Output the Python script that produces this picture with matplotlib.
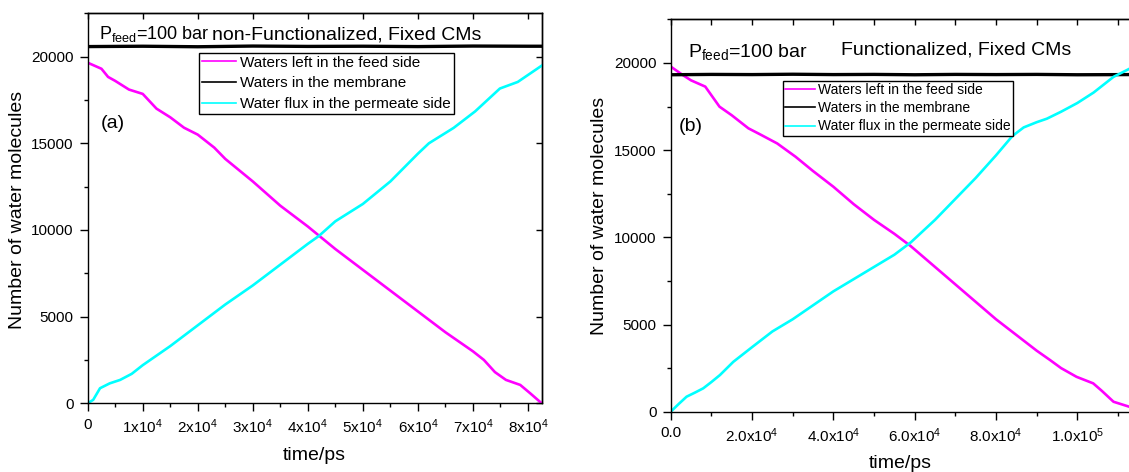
import matplotlib
matplotlib.use('Agg')
import matplotlib.pyplot as plt
from matplotlib.ticker import MultipleLocator, NullFormatter

plt.rcParams['font.family'] = ['Liberation Sans', 'DejaVu Sans']
plt.rcParams['mathtext.fontset'] = 'custom'
plt.rcParams['mathtext.rm'] = 'Liberation Sans'
plt.rcParams['mathtext.it'] = 'Liberation Sans:italic'
plt.rcParams['mathtext.bf'] = 'Liberation Sans:bold'
plt.rcParams['mathtext.default'] = 'rm'

# ---------------- data: panel (a) ----------------
t_feed_a = [0, 2500, 3700, 5000, 7500, 10000, 12500, 15000, 17500, 20000, 23000, 25000,
            30000, 35000, 40000, 45000, 50000, 55000, 60000, 65000, 70000, 72000, 74000,
            76000, 78600, 80400, 82500]
feed_a = [19650, 19300, 18830, 18600, 18100, 17850, 17000, 16500, 15900, 15500, 14750, 14100,
          12800, 11400, 10200, 8900, 7700, 6500, 5300, 4100, 3000, 2500, 1800,
          1350, 1060, 580, 0]

t_perm_a = [0, 1000, 2240, 4000, 5900, 8000, 10000, 15000, 20000, 25000, 30000, 35000, 40000,
            42000, 45000, 50000, 55000, 60000, 62000, 66500, 70400, 74900, 78150, 82500]
perm_a = [0, 200, 870, 1150, 1350, 1700, 2200, 3300, 4500, 5700, 6800, 8000, 9200,
          9650, 10500, 11500, 12800, 14400, 15000, 15890, 16840, 18160, 18540, 19480]

t_memb_a = [0, 10000, 20000, 30000, 40000, 50000, 60000, 70000, 80000, 82500]
memb_a = [20580, 20600, 20570, 20610, 20590, 20600, 20580, 20610, 20600, 20600]

# ---------------- data: panel (b) ----------------
t_feed_b = [0, 3000, 5000, 8500, 12000, 15000, 19100, 22000, 26200, 30700, 35000, 40000,
            45000, 50000, 55000, 59000, 65000, 70000, 75000, 80000, 85000, 90000, 93300,
            96000, 99800, 103900, 106000, 108900, 112700]
feed_b = [19790, 19300, 19000, 18640, 17490, 17000, 16250, 15900, 15380, 14620, 13800, 12900,
          11900, 11000, 10200, 9500, 8300, 7300, 6300, 5300, 4400, 3500, 2960,
          2500, 2000, 1625, 1200, 570, 290]

t_perm_b = [0, 2000, 3900, 6000, 8000, 10000, 12100, 15400, 20000, 25000, 30000, 35000,
            40000, 45000, 50000, 55000, 59000, 65000, 70000, 75000, 80000, 84000, 86800,
            90000, 92500, 96000, 100000, 104000, 108900, 112700]
perm_b = [0, 450, 860, 1100, 1340, 1700, 2100, 2860, 3700, 4600, 5300, 6100,
          6900, 7600, 8300, 9000, 9700, 11000, 12200, 13400, 14700, 15800, 16300,
          16600, 16800, 17200, 17700, 18300, 19200, 19650]

t_memb_b = [0, 10000, 20000, 30000, 40000, 50000, 60000, 70000, 80000, 90000, 100000, 112700]
memb_b = [19320, 19340, 19330, 19350, 19330, 19340, 19320, 19340, 19330, 19340, 19320, 19330]

labels = ['Waters left in the feed side', 'Waters in the membrane',
          'Water flux in the permeate side']

xticks_a = [0, 10000, 20000, 30000, 40000, 50000, 60000, 70000, 80000]
xticklabels_a = ['0'] + [r'%dx10$^{4}$' % i for i in range(1, 9)]
xticks_b = [0, 20000, 40000, 60000, 80000, 100000]
xticklabels_b = ['0.0', r'2.0x10$^{4}$', r'4.0x10$^{4}$', r'6.0x10$^{4}$',
                 r'8.0x10$^{4}$', r'1.0x10$^{5}$']
yticks = [0, 5000, 10000, 15000, 20000]
yticklabels = ['0', '5000', '10000', '15000', '20000']

MAG = '#FF00FF'
CYA = '#00FFFF'

W, H = 1129, 472
fig = plt.figure(figsize=(W / 100, H / 100), dpi=100)


def fx(px):
    return px / W


def fy(py):
    return 1 - py / H


axA = fig.add_axes([fx(87.7), fy(403.3), (541.7 - 87.7) / W, (403.3 - 13.3) / H])
axB = fig.add_axes([fx(670.7), fy(411.7), (1130.2 - 670.7) / W, (411.7 - 19.3) / H])


def style(ax, xmax, xt, xtl, xminor, right_ticks=True):
    ax.set_xlim(0, xmax)
    ax.set_ylim(0, 22500)
    ax.set_xticks(xt)
    ax.set_xticklabels(xtl)
    ax.xaxis.set_minor_locator(MultipleLocator(xminor))
    ax.set_yticks(yticks)
    ax.set_yticklabels(yticklabels)
    ax.yaxis.set_minor_locator(MultipleLocator(2500))
    ax.tick_params(which='both', direction='out', width=1.0, labelsize=11,
                   top=False, right=False)
    ax.tick_params(axis='x', which='major', length=5.5, pad=5)
    ax.tick_params(axis='y', which='major', length=5.5, pad=4.5)
    ax.tick_params(which='minor', length=3)
    for s in ax.spines.values():
        s.set_linewidth(1.0)
    top = ax.secondary_xaxis('top')
    top.set_ticks([v for v in range(0, int(xmax) + 1, 10000)])
    top.xaxis.set_major_formatter(NullFormatter())
    top.tick_params(axis='x', which='major', direction='in', length=4.5, width=1.0)
    top.spines['top'].set_linewidth(1.0)
    if right_ticks:
        right = ax.secondary_yaxis('right')
        right.set_ticks(yticks)
        right.yaxis.set_major_formatter(NullFormatter())
        right.tick_params(axis='y', which='major', direction='in', length=4.5, width=1.0)
        right.spines['right'].set_linewidth(1.0)


def draw(ax, tf, f, tm, m, tp, p):
    l1, = ax.plot(tf, f, color=MAG, lw=1.9)
    l2, = ax.plot(tm, m, color='black', lw=2.4)
    l3, = ax.plot(tp, p, color=CYA, lw=1.9)
    return [l1, l2, l3]


hA = draw(axA, t_feed_a, feed_a, t_memb_a, memb_a, t_perm_a, perm_a)
hB = draw(axB, t_feed_b, feed_b, t_memb_b, memb_b, t_perm_b, perm_b)
style(axA, 82500, xticks_a, xticklabels_a, 5000)
style(axB, 113000, xticks_b, xticklabels_b, 10000, right_ticks=False)

legA = axA.legend(hA, labels, loc='upper left', bbox_to_anchor=(fx(198.8), fy(52.5)),
                  bbox_transform=fig.transFigure, borderaxespad=0, fontsize=11,
                  frameon=True, fancybox=False, edgecolor='black', framealpha=1,
                  borderpad=0.2, labelspacing=0.45, handlelength=2.25, handletextpad=0.25)
legA.get_frame().set_linewidth(1.0)
legB = axB.legend(hB, labels, loc='upper left', bbox_to_anchor=(fx(782.8), fy(81)),
                  bbox_transform=fig.transFigure, borderaxespad=0, fontsize=10,
                  frameon=True, fancybox=False, edgecolor='black', framealpha=1,
                  borderpad=0.15, labelspacing=0.3, handlelength=2.15, handletextpad=0.25)
legB.get_frame().set_linewidth(1.0)
for leg in (legA, legB):
    for ln in leg.get_lines():
        ln.set_linewidth(1.2)

fig.text(fx(99), fy(39), r'P$_{\mathrm{feed}}$=100 bar', fontsize=13, va='baseline')
fig.text(fx(212), fy(39), 'non-Functionalized, Fixed CMs', fontsize=14, va='baseline')
fig.text(fx(688.3), fy(56.7), r'P$_{\mathrm{feed}}$=100 bar', fontsize=14, va='baseline')
fig.text(fx(840.8), fy(54.5), 'Functionalized, Fixed CMs', fontsize=14, va='baseline')

fig.text(fx(113), fy(123), '(a)', fontsize=14, ha='center', va='center')
fig.text(fx(691), fy(126.7), '(b)', fontsize=14, ha='center', va='center')

fig.text(fx(17.3), fy(210), 'Number of water molecules', fontsize=14, rotation=90,
         ha='center', va='center')
fig.text(fx(599.7), fy(215.5), 'Number of water molecules', fontsize=14, rotation=90,
         ha='center', va='center')
fig.text(fx(314.7), fy(455), 'time/ps', fontsize=14, ha='center', va='center')
fig.text(fx(900), fy(464), 'time/ps', fontsize=14, ha='center', va='center')

fig.savefig('out.png', dpi=100)
